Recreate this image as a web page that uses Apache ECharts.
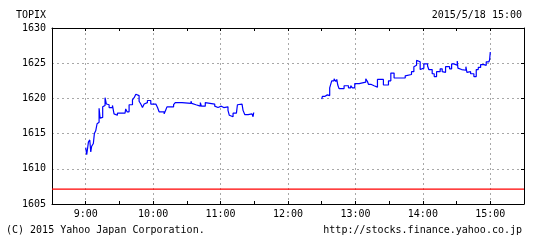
<!DOCTYPE html>
<html>
<head>
<meta charset="utf-8">
<script src="https://cdn.jsdelivr.net/npm/echarts@6/dist/echarts.min.js"></script>
<style>
html,body{margin:0;padding:0;background:#fff;}
#c{width:550px;height:241px;}
</style>
</head>
<body>
<div id="c"></div>
<script>
// ---- data ----
const titleText = 'TOPIX';
const dateText = '2015/5/18 15:00';
const copyrightText = '(C) 2015 Yahoo Japan Corporation.';
const urlText = 'http://stocks.finance.yahoo.co.jp';

const yTicks = [1605, 1610, 1615, 1620, 1625, 1630];
const xTickHours = [9, 10, 11, 12, 13, 14, 15];
const refLineValue = 1607.1;

// morning session: minutes after 9:00
const amMinutes = [0,0.9,2.4,3.6,4.5,5.3,6.8,7.7,8.9,10.1,11.0,11.9,12.8,14.3,15.1,16.3,17.2,18.4,19.6,20.8,23.8,25.2,26.7,28.2,35.0,35.6,36.8,38.6,41.6,43.1,44.6,46.0,47.5,49.0,50.5,52.0,53.5,54.9,57.9,62.4,63.9,65.3,69.8,71.3,72.3,78.2,79.7,85.7,93.7,94.3,95.2,98.1,102.0,102.9,106.4,107.9,114.8,116.2,117.7,118.9,120.7,122.8,126.6,127.8,129.0,131.1,134.1,135.0,136.7,139.1,140.0,141.5,144.5,148.0,148.9,149.5];
const amValues = [1613.0,1612.0,1613.8,1614.1,1612.4,1613.2,1613.6,1615.0,1615.4,1616.4,1616.6,1618.6,1617.2,1617.3,1618.8,1619.0,1620.1,1619.2,1619.1,1618.7,1619.0,1617.8,1617.6,1617.9,1618.0,1618.5,1618.1,1619.1,1619.8,1620.1,1620.6,1620.4,1619.6,1619.2,1618.7,1619.2,1619.4,1619.7,1619.2,1619.1,1618.7,1618.1,1617.8,1618.4,1618.8,1619.1,1619.4,1619.3,1619.6,1619.3,1619.1,1618.9,1619.4,1618.9,1619.4,1619.2,1618.9,1618.7,1618.5,1618.9,1618.7,1618.8,1618.3,1617.6,1617.4,1617.9,1618.0,1619.1,1619.2,1619.0,1618.3,1617.7,1617.8,1617.7,1617.4,1618.0];

// afternoon session: minutes after 12:30
const pmMinutes = [0,0.6,3.0,5.0,7.1,8.0,8.9,11.0,12.5,13.4,14.3,15.4,19.9,23.8,25.8,27.3,29.4,33.3,39.2,40.7,41.6,43.7,46.6,49.6,54.9,59.4,61.5,64.4,68.3,69.5,74.3,76.0,79.9,82.0,83.5,84.4,85.0,87.6,88.8,90.9,94.2,95.3,98.3,100.1,102.2,105.4,107.2,108.7,110.2,113.8,115.6,117.6,120.6,121.2,122.7,124.5,128.3,129.2,130.4,132.5,135.4,137.5,139.3,141.4,144.4,146.4,148.8,149.4,150.0];
const pmValues = [1619.9,1620.3,1620.5,1620.4,1621.5,1622.0,1622.5,1622.8,1622.4,1622.7,1621.9,1621.4,1621.8,1621.5,1621.8,1621.5,1622.1,1622.3,1622.8,1622.4,1622.0,1621.8,1621.6,1622.7,1621.9,1622.5,1623.6,1622.9,1623.0,1622.9,1623.2,1623.4,1623.8,1624.5,1624.7,1625.4,1625.2,1624.1,1624.3,1624.9,1624.6,1624.1,1623.5,1623.1,1623.8,1624.2,1623.8,1623.7,1624.5,1624.2,1624.9,1624.7,1625.3,1624.3,1624.1,1624.0,1624.5,1623.7,1623.8,1623.5,1623.1,1624.1,1624.4,1624.8,1624.7,1625.2,1625.0,1625.5,1626.6];

// ---- build ----
const amStartHour = 9;
const pmStartHour = 12.5;
const amData = amMinutes.map((m, i) => [amStartHour + m / 60, amValues[i]]);
const pmData = pmMinutes.map((m, i) => [pmStartHour + m / 60, pmValues[i]]);

const FONT = '"DejaVu Sans Mono", "Liberation Mono", monospace';
const xMin = 8.5, xMax = 15.5;
const yMin = yTicks[0], yMax = yTicks[yTicks.length - 1];
const gridDash = { color: '#a8a8a8', width: 1, type: [2, 3] };
const refData = [[xMin, refLineValue], [xMax, refLineValue]];

const chart = echarts.init(document.getElementById('c'), null, { renderer: 'canvas' });
chart.setOption({
  animation: false,
  backgroundColor: '#ffffff',
  grid: { left: 52, right: 26, top: 28, bottom: 37, containLabel: false },
  xAxis: [
    {
      type: 'value', position: 'bottom', min: xMin, max: xMax, interval: 0.5,
      axisLine: { show: true, lineStyle: { color: '#000', width: 1 } },
      axisTick: { show: true, inside: true, length: 3, lineStyle: { color: '#000' } },
      axisLabel: {
        show: true, margin: 5, color: '#000', fontSize: 10, fontFamily: FONT,
        formatter: v => (xTickHours.indexOf(v) >= 0 ? v + ':00' : '')
      },
      splitLine: { show: true, lineStyle: { color: ['rgba(0,0,0,0)', gridDash.color], width: 1, type: gridDash.type } }
    },
    {
      type: 'value', position: 'top', min: xMin, max: xMax, interval: 0.5,
      axisLine: { show: true, lineStyle: { color: '#000', width: 1 } },
      axisTick: { show: true, inside: true, length: 3, lineStyle: { color: '#000' } },
      axisLabel: { show: false },
      splitLine: { show: false }
    }
  ],
  yAxis: [
    {
      type: 'value', position: 'left', min: yMin, max: yMax, interval: 5,
      axisLine: { show: true, lineStyle: { color: '#000', width: 1 } },
      axisTick: { show: false },
      axisLabel: { show: true, margin: 6, color: '#000', fontSize: 10, fontFamily: FONT, formatter: v => String(v) },
      splitLine: { show: true, lineStyle: gridDash }
    },
    {
      type: 'value', position: 'right', min: yMin, max: yMax, interval: 5,
      axisLine: { show: true, lineStyle: { color: '#000', width: 1 } },
      axisTick: { show: true, inside: true, length: 3, lineStyle: { color: '#000' } },
      axisLabel: { show: false },
      splitLine: { show: false }
    }
  ],
  graphic: [
    { type: 'text', x: 16, y: 15, style: { text: titleText, fill: '#000', font: '10px ' + FONT, textAlign: 'left', textVerticalAlign: 'middle', verticalAlign: 'middle' } },
    { type: 'text', x: 522, y: 15, style: { text: dateText, fill: '#000', font: '10px ' + FONT, textAlign: 'right', textVerticalAlign: 'middle', verticalAlign: 'middle' } },
    { type: 'text', x: 6, y: 230, style: { text: copyrightText, fill: '#000', font: '10px ' + FONT, textAlign: 'left', textVerticalAlign: 'middle', verticalAlign: 'middle' } },
    { type: 'text', x: 522, y: 230, style: { text: urlText, fill: '#000', font: '10px ' + FONT, textAlign: 'right', textVerticalAlign: 'middle', verticalAlign: 'middle' } }
  ],
  series: [
    {
      name: 'ref', type: 'line', xAxisIndex: 0, yAxisIndex: 0, data: refData,
      showSymbol: false, symbol: 'none', silent: true, z: 3,
      itemStyle: { color: '#ff0000' },
      lineStyle: { color: '#ff0000', width: 1.3, type: 'solid' }
    },
    {
      name: 'am', type: 'line', xAxisIndex: 0, yAxisIndex: 0, data: amData, step: 'end',
      showSymbol: false, symbol: 'none', silent: true, z: 4,
      itemStyle: { color: '#0000ff' },
      lineStyle: { color: '#0000ff', width: 1.2 }
    },
    {
      name: 'pm', type: 'line', xAxisIndex: 0, yAxisIndex: 0, data: pmData, step: 'end',
      showSymbol: false, symbol: 'none', silent: true, z: 4,
      itemStyle: { color: '#0000ff' },
      lineStyle: { color: '#0000ff', width: 1.2 }
    }
  ]
});
</script>
</body>
</html>
